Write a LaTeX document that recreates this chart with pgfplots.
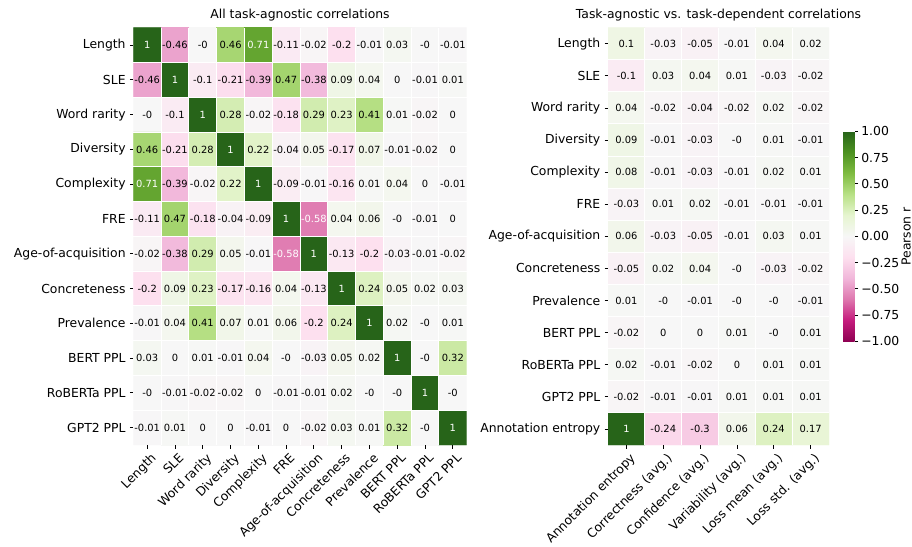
\documentclass[border=0pt]{standalone}
\usepackage{pgfplots}
\pgfplotsset{compat=1.18}
\usepackage{pgfplotstable}
\usepackage{fontspec}
\setmainfont{DejaVu Sans}
\newcommand{\lblfont}{\fontsize{12.4}{14}\selectfont}
\newcommand{\annfont}{\fontsize{9.9}{11}\selectfont}
\newcommand{\cbfont}{\fontsize{12.4}{14}\selectfont}

% y = 11 - row index (row 0 = Length at top)
\pgfplotstableread[row sep=\\]{
x y c\\
0 11 1\\ 1 11 -0.46\\ 2 11 -0\\ 3 11 0.46\\ 4 11 0.71\\ 5 11 -0.11\\ 6 11 -0.02\\ 7 11 -0.2\\ 8 11 -0.01\\ 9 11 0.03\\ 10 11 -0\\ 11 11 -0.01\\
0 10 -0.46\\ 1 10 1\\ 2 10 -0.1\\ 3 10 -0.21\\ 4 10 -0.39\\ 5 10 0.47\\ 6 10 -0.38\\ 7 10 0.09\\ 8 10 0.04\\ 9 10 0\\ 10 10 -0.01\\ 11 10 0.01\\
0 9 -0\\ 1 9 -0.1\\ 2 9 1\\ 3 9 0.28\\ 4 9 -0.02\\ 5 9 -0.18\\ 6 9 0.29\\ 7 9 0.23\\ 8 9 0.41\\ 9 9 0.01\\ 10 9 -0.02\\ 11 9 0\\
0 8 0.46\\ 1 8 -0.21\\ 2 8 0.28\\ 3 8 1\\ 4 8 0.22\\ 5 8 -0.04\\ 6 8 0.05\\ 7 8 -0.17\\ 8 8 0.07\\ 9 8 -0.01\\ 10 8 -0.02\\ 11 8 0\\
0 7 0.71\\ 1 7 -0.39\\ 2 7 -0.02\\ 3 7 0.22\\ 4 7 1\\ 5 7 -0.09\\ 6 7 -0.01\\ 7 7 -0.16\\ 8 7 0.01\\ 9 7 0.04\\ 10 7 0\\ 11 7 -0.01\\
0 6 -0.11\\ 1 6 0.47\\ 2 6 -0.18\\ 3 6 -0.04\\ 4 6 -0.09\\ 5 6 1\\ 6 6 -0.58\\ 7 6 0.04\\ 8 6 0.06\\ 9 6 -0\\ 10 6 -0.01\\ 11 6 0\\
0 5 -0.02\\ 1 5 -0.38\\ 2 5 0.29\\ 3 5 0.05\\ 4 5 -0.01\\ 5 5 -0.58\\ 6 5 1\\ 7 5 -0.13\\ 8 5 -0.2\\ 9 5 -0.03\\ 10 5 -0.01\\ 11 5 -0.02\\
0 4 -0.2\\ 1 4 0.09\\ 2 4 0.23\\ 3 4 -0.17\\ 4 4 -0.16\\ 5 4 0.04\\ 6 4 -0.13\\ 7 4 1\\ 8 4 0.24\\ 9 4 0.05\\ 10 4 0.02\\ 11 4 0.03\\
0 3 -0.01\\ 1 3 0.04\\ 2 3 0.41\\ 3 3 0.07\\ 4 3 0.01\\ 5 3 0.06\\ 6 3 -0.2\\ 7 3 0.24\\ 8 3 1\\ 9 3 0.02\\ 10 3 -0\\ 11 3 0.01\\
0 2 0.03\\ 1 2 0\\ 2 2 0.01\\ 3 2 -0.01\\ 4 2 0.04\\ 5 2 -0\\ 6 2 -0.03\\ 7 2 0.05\\ 8 2 0.02\\ 9 2 1\\ 10 2 -0\\ 11 2 0.32\\
0 1 -0\\ 1 1 -0.01\\ 2 1 -0.02\\ 3 1 -0.02\\ 4 1 0\\ 5 1 -0.01\\ 6 1 -0.01\\ 7 1 0.02\\ 8 1 -0\\ 9 1 -0\\ 10 1 1\\ 11 1 -0\\
0 0 -0.01\\ 1 0 0.01\\ 2 0 0\\ 3 0 0\\ 4 0 -0.01\\ 5 0 0\\ 6 0 -0.02\\ 7 0 0.03\\ 8 0 0.01\\ 9 0 0.32\\ 10 0 -0\\ 11 0 1\\
}\leftdata

% y = 12 - row index (row 0 = Length at top)
\pgfplotstableread[row sep=\\]{
x y c\\
0 12 0.1\\ 1 12 -0.03\\ 2 12 -0.05\\ 3 12 -0.01\\ 4 12 0.04\\ 5 12 0.02\\
0 11 -0.1\\ 1 11 0.03\\ 2 11 0.04\\ 3 11 0.01\\ 4 11 -0.03\\ 5 11 -0.02\\
0 10 0.04\\ 1 10 -0.02\\ 2 10 -0.04\\ 3 10 -0.02\\ 4 10 0.02\\ 5 10 -0.02\\
0 9 0.09\\ 1 9 -0.01\\ 2 9 -0.03\\ 3 9 -0\\ 4 9 0.01\\ 5 9 -0.01\\
0 8 0.08\\ 1 8 -0.01\\ 2 8 -0.03\\ 3 8 -0.01\\ 4 8 0.02\\ 5 8 0.01\\
0 7 -0.03\\ 1 7 0.01\\ 2 7 0.02\\ 3 7 -0.01\\ 4 7 -0.01\\ 5 7 -0.01\\
0 6 0.06\\ 1 6 -0.03\\ 2 6 -0.05\\ 3 6 -0.01\\ 4 6 0.03\\ 5 6 0.01\\
0 5 -0.05\\ 1 5 0.02\\ 2 5 0.04\\ 3 5 -0\\ 4 5 -0.03\\ 5 5 -0.02\\
0 4 0.01\\ 1 4 -0\\ 2 4 -0.01\\ 3 4 -0\\ 4 4 -0\\ 5 4 -0.01\\
0 3 -0.02\\ 1 3 0\\ 2 3 0\\ 3 3 0.01\\ 4 3 -0\\ 5 3 0.01\\
0 2 0.02\\ 1 2 -0.01\\ 2 2 -0.02\\ 3 2 0\\ 4 2 0.01\\ 5 2 0.01\\
0 1 -0.02\\ 1 1 -0.01\\ 2 1 -0.01\\ 3 1 0.01\\ 4 1 0.01\\ 5 1 0.01\\
0 0 1\\ 1 0 -0.24\\ 2 0 -0.3\\ 3 0 0.06\\ 4 0 0.24\\ 5 0 0.17\\
}\rightdata

\pgfplotsset{
 colormap={piyg}{rgb255=(142,1,82) rgb255=(197,27,125) rgb255=(222,119,174) rgb255=(241,182,218) rgb255=(253,224,239) rgb255=(247,247,247) rgb255=(230,245,208) rgb255=(184,225,134) rgb255=(127,188,65) rgb255=(77,146,33) rgb255=(39,100,25)},
 heat/.style={scale only axis, enlargelimits=false, axis on top, axis line style={draw=none},
   tick align=outside, major tick length=3.5pt, minor tick length=0pt,
   tick style={black, line width=0.8pt},
   xminorgrids, yminorgrids, minor grid style={white, line width=1pt},
   tick label style={font=\lblfont, text=black},
   xticklabel style={rotate=45, anchor=north east, inner sep=0.5pt, yshift=-4pt},
   yticklabel style={inner sep=4pt},
   point meta min=-1, point meta max=1,
   title style={font=\lblfont, at={(0.5,1)}, anchor=south, yshift=-3pt},
   xtick pos=left, ytick pos=left},
 annot/.style={only marks, mark=none, point meta=explicit symbolic,
   nodes near coords={\pgfmathsetmacro\av{abs(\pgfplotspointmeta)}\ifdim\av pt>0.5pt\color{white}\fi\pgfplotspointmeta},
   nodes near coords align=center,
   every node near coord/.append style={font=\annfont, text=black, inner sep=0pt}},
}

\begin{document}
\begin{tikzpicture}
\useasboundingbox (0,0) rectangle (912pt,546pt);
\begin{axis}[heat,
  at={(133.3pt,101pt)}, anchor=south west,
  width=333.4pt, height=417.3pt,
  xmin=-0.5, xmax=11.5, ymin=-0.5, ymax=11.5,
  xtick={0,...,11}, ytick={0,...,11},
  minor xtick={0.5,1.5,...,10.5}, minor ytick={0.5,1.5,...,10.5},
  xticklabels={Length,SLE,Word rarity,Diversity,Complexity,FRE,Age-of-acquisition,Concreteness,Prevalence,BERT PPL,RoBERTa PPL,GPT2 PPL},
  yticklabels={GPT2 PPL,RoBERTa PPL,BERT PPL,Prevalence,Concreteness,Age-of-acquisition,FRE,Complexity,Diversity,Word rarity,SLE,Length},
  title={All task-agnostic correlations},
]
\addplot[matrix plot*, mesh/cols=12, point meta=explicit] table[x=x, y=y, meta=c]{\leftdata};
\addplot[annot] table[x=x, y=y, meta=c]{\leftdata};
\end{axis}
\begin{axis}[heat,
  at={(608pt,101pt)}, anchor=south west,
  width=221pt, height=417.3pt,
  xmin=-0.5, xmax=5.5, ymin=-0.5, ymax=12.5,
  xtick={0,...,5}, ytick={0,...,12},
  minor xtick={0.5,1.5,...,4.5}, minor ytick={0.5,1.5,...,11.5},
  xticklabels={Annotation entropy,Correctness (avg.),Confidence (avg.),Variability (avg.),Loss mean (avg.),Loss std. (avg.)},
  yticklabels={Annotation entropy,GPT2 PPL,RoBERTa PPL,BERT PPL,Prevalence,Concreteness,Age-of-acquisition,FRE,Complexity,Diversity,Word rarity,SLE,Length},
  title={Task-agnostic vs. task-dependent correlations},
]
\addplot[matrix plot*, mesh/cols=6, point meta=explicit] table[x=x, y=y, meta=c]{\rightdata};
\addplot[annot] table[x=x, y=y, meta=c]{\rightdata};
\end{axis}
% colour bar
\begin{axis}[hide axis, scale only axis,
  at={(608pt,101pt)}, anchor=south west,
  width=221pt, height=417.3pt, xmin=0, xmax=1, ymin=0, ymax=1,
  point meta min=-1, point meta max=1,
  colorbar,
  colorbar style={
    at={(parent axis.east)}, anchor=west, xshift=5.5pt,
    width=11.6pt, height=210pt, scale only axis,
    axis line style={draw=none},
    xtick=\empty,
    ytick={-1,-0.75,-0.5,-0.25,0,0.25,0.5,0.75,1},
    yticklabels={−1.00,−0.75,−0.50,−0.25,0.00,0.25,0.50,0.75,1.00},
    ytick pos=right, yticklabel pos=right, tick align=outside, major tick length=3.5pt,
    tick style={black, line width=0.8pt},
    yticklabel style={font=\cbfont, anchor=west, inner sep=3pt},
    ylabel={Pearson r},
    ylabel style={font=\cbfont, at={(axis description cs:5.45,0.5)}, anchor=center},
  },
]
\addplot[draw=none] coordinates {(0,0)};
\end{axis}
\end{tikzpicture}
\end{document}
